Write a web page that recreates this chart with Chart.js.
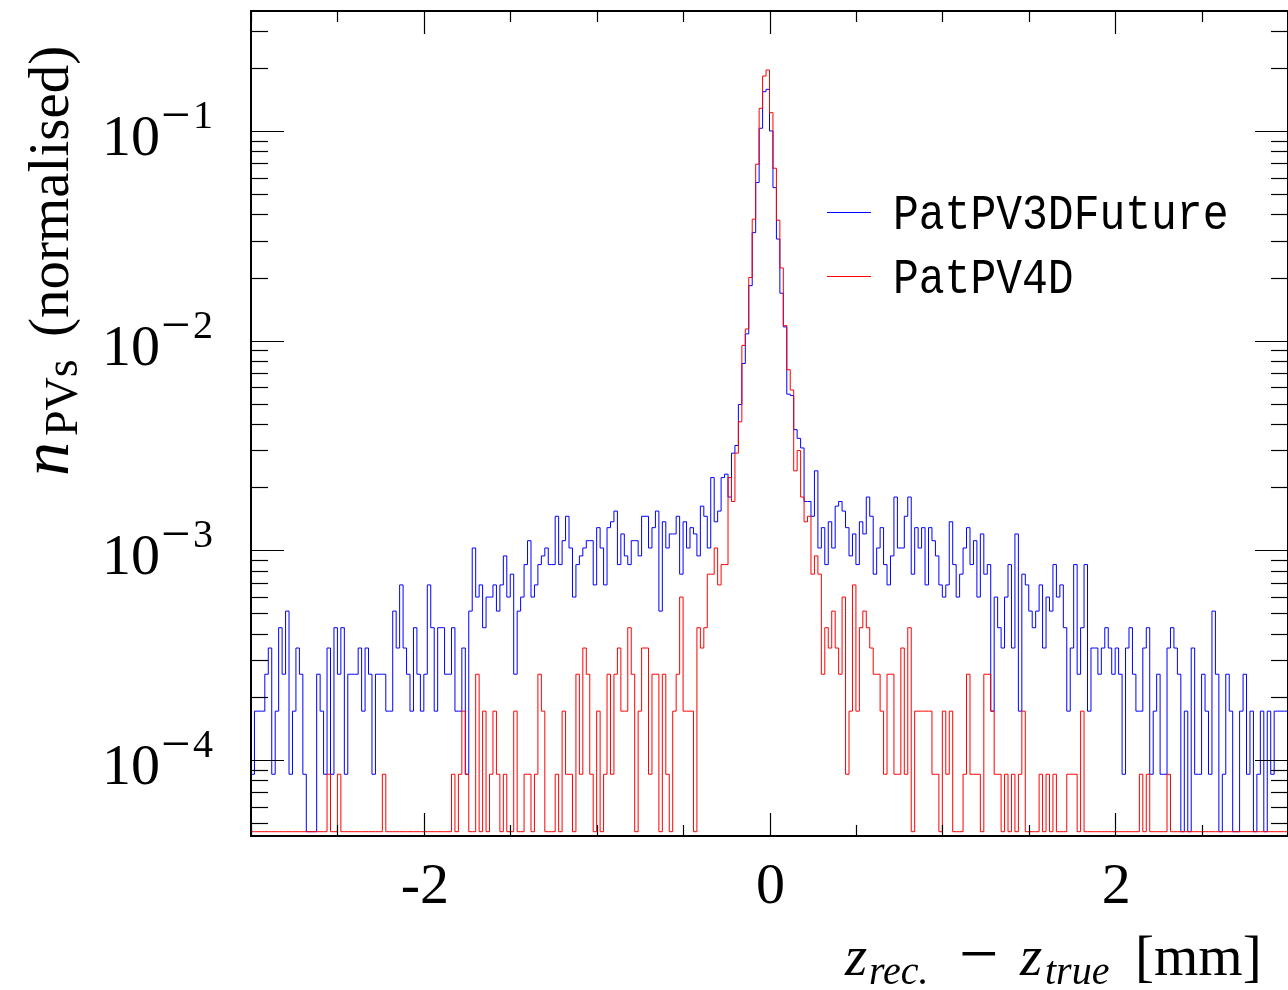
<!DOCTYPE html>
<html>
<head>
<meta charset="utf-8">
<script src="https://cdn.jsdelivr.net/npm/chart.js@4.4.1/dist/chart.umd.min.js"></script>
<style>
  html, body { margin: 0; padding: 0; background: #fff; overflow: hidden; }
  #wrap { width: 1288px; height: 990px; }
</style>
</head>
<body>
<div id="wrap"><canvas id="pvChart" width="1288" height="990"></canvas></div>
<script>
(function () {
  'use strict';

  // histogram binning (300 bins of 0.02 mm)
  const X_MIN = -3;
  const X_MAX = 3;
  const BIN_WIDTH = 0.02;
  const Y_MIN = 4.34e-5;
  const Y_MAX = 0.3735;
  const PER_PV = 8.55e-5;     // normalised height of a single PV in a bin
  const EMPTY_LEVEL = 4.55e-5; // where ROOT draws the empty bins

  const X_LABELS = [-2, 0, 2];
  const X_MINOR_STEP = 0.5;
  const Y_DECADES = [-4, -3, -2, -1];
  const SERIES_NAMES = ['PatPV3DFuture', 'PatPV4D'];

  // bin contents (PVs per bin)
  const pv3dCounts = [
    0, 1, 2, 2, 2, 3, 4, 1, 2, 5, 3, 6, 1, 2, 4, 3, 1, 0, 0, 0,
    3, 2, 1, 4, 1, 5, 3, 5, 1, 3, 3, 3, 4, 2, 4, 3, 1, 3, 3, 3,
    2, 2, 6, 4, 8, 4, 3, 2, 5, 3, 2, 3, 8, 5, 2, 5, 5, 3, 3, 5,
    2, 2, 4, 1, 6, 12, 7, 8, 5, 7, 7, 8, 6, 8, 11, 7, 9, 3, 6, 7,
    10, 13, 7, 8, 10, 11, 12, 10, 10, 17, 10, 13, 17, 12, 7, 10, 11, 12, 13, 13,
    8, 15, 12, 8, 15, 16, 18, 10, 14, 11, 10, 13, 13, 11, 17, 17, 12, 15, 18, 6,
    16, 12, 14, 14, 17, 9, 16, 12, 15, 14, 11, 19, 17, 12, 26, 16, 18, 26, 27, 21,
    34, 37, 58, 91, 126, 214, 383, 664, 1205, 1800, 1848, 1170, 628, 357, 197, 136, 65, 64, 44, 40,
    36, 20, 20, 17, 28, 12, 15, 10, 16, 12, 19, 20, 18, 15, 11, 14, 10, 16, 14, 21,
    17, 9, 12, 15, 10, 8, 11, 21, 12, 12, 17, 21, 9, 15, 12, 15, 8, 15, 13, 11,
    8, 7, 8, 16, 10, 7, 9, 12, 15, 10, 13, 7, 14, 9, 10, 2, 7, 5, 4, 7,
    10, 4, 14, 2, 9, 8, 6, 5, 6, 8, 4, 7, 6, 10, 7, 8, 5, 2, 4, 10,
    3, 5, 10, 2, 4, 4, 3, 4, 5, 4, 3, 4, 3, 1, 4, 5, 3, 2, 2, 4,
    5, 1, 2, 3, 1, 1, 4, 5, 4, 3, 0, 2, 0, 4, 1, 1, 3, 2, 1, 6,
    3, 0, 1, 3, 2, 0, 0, 2, 3, 1, 2, 0, 1, 2, 0, 2, 1, 2, 2, 2,
  ];

  const pv4dCounts = [
    0, 0, 0, 0, 0, 0, 0, 0, 0, 0, 0, 0, 0, 0, 0, 0, 0, 0, 0, 0,
    0, 0, 0, 1, 0, 0, 1, 0, 0, 0, 0, 0, 0, 0, 0, 0, 0, 0, 0, 1,
    0, 0, 0, 0, 0, 0, 0, 0, 0, 0, 0, 0, 0, 0, 0, 0, 0, 0, 0, 1,
    0, 1, 2, 1, 0, 0, 3, 0, 2, 0, 1, 2, 1, 0, 1, 0, 0, 2, 0, 0,
    1, 1, 0, 1, 3, 2, 0, 0, 0, 1, 0, 2, 1, 1, 0, 3, 1, 4, 3, 1,
    0, 2, 0, 1, 3, 1, 3, 4, 2, 2, 5, 3, 0, 2, 4, 4, 1, 3, 3, 0,
    3, 1, 0, 2, 3, 7, 2, 2, 2, 0, 5, 4, 5, 9, 9, 12, 8, 10, 10, 26,
    20, 34, 48, 111, 133, 234, 444, 812, 1500, 2138, 2285, 1430, 777, 439, 260, 138, 85, 68, 28, 35,
    21, 16, 17, 9, 11, 9, 3, 5, 4, 6, 4, 3, 7, 1, 2, 8, 2, 5, 6, 5,
    4, 3, 3, 2, 1, 3, 3, 1, 1, 4, 1, 5, 0, 2, 2, 2, 2, 2, 1, 1,
    0, 2, 1, 2, 0, 0, 0, 1, 3, 1, 1, 1, 0, 3, 3, 2, 1, 1, 0, 1,
    0, 1, 0, 1, 2, 0, 0, 0, 0, 1, 0, 1, 0, 1, 0, 0, 0, 1, 1, 1,
    0, 2, 0, 0, 0, 0, 0, 0, 0, 0, 0, 0, 0, 0, 0, 0, 0, 0, 1, 0,
    1, 0, 0, 0, 0, 0, 1, 0, 0, 0, 0, 0, 0, 0, 0, 0, 0, 0, 0, 0,
    0, 0, 0, 0, 0, 0, 0, 0, 0, 0, 0, 0, 0, 0, 0, 0, 0, 0, 0, 0,
  ];

  const SERIF = '"Liberation Serif", "Times New Roman", serif';
  const MONO = '"Liberation Mono", "Courier New", monospace';

  // each bin becomes a point at its low edge, drawn as a step
  function toSteps(counts) {
    const pts = counts.map((n, i) => ({
      x: X_MIN + i * BIN_WIDTH,
      y: n > 0 ? n * PER_PV : EMPTY_LEVEL,
    }));
    pts.push({ x: X_MAX, y: pts[pts.length - 1].y });
    return pts;
  }

  function seg(ctx, x1, y1, x2, y2) {
    ctx.beginPath();
    ctx.moveTo(x1, y1);
    ctx.lineTo(x2, y2);
    ctx.stroke();
  }

  // ROOT-like frame: inward ticks on all sides, TeX-ish labels, legend
  const rootFrame = {
    id: 'rootFrame',
    afterDraw(chart) {
      const { ctx, chartArea: a } = chart;
      const xs = chart.scales.x;
      const ys = chart.scales.y;
      ctx.save();
      ctx.strokeStyle = '#000';
      ctx.fillStyle = '#000';

      ctx.lineWidth = 1.2;
      for (let v = X_MIN; v <= X_MAX + 1e-9; v += X_MINOR_STEP) {
        const px = Math.round(xs.getPixelForValue(v)) + 0.5;
        const len = X_LABELS.includes(v) ? 23 : 11;
        seg(ctx, px, a.bottom, px, a.bottom - len);
        seg(ctx, px, a.top, px, a.top + len);
      }
      for (let k = -5; k <= 0; k++) {
        for (let m = 1; m <= 9; m++) {
          const v = m * Math.pow(10, k);
          if (v < Y_MIN || v > Y_MAX) continue;
          const py = Math.round(ys.getPixelForValue(v)) + 0.5;
          const len = m === 1 ? 33 : 17;
          seg(ctx, a.left, py, a.left + len, py);
          seg(ctx, a.right, py, a.right - len, py);
        }
      }

      ctx.lineWidth = 2;
      ctx.strokeRect(a.left, a.top, a.right - a.left, a.bottom - a.top);

      // x tick labels
      ctx.font = '58px ' + SERIF;
      ctx.textAlign = 'center';
      ctx.textBaseline = 'alphabetic';
      X_LABELS.forEach((v) => {
        const txt = v < 0 ? '-' + Math.abs(v) : String(v);
        ctx.fillText(txt, xs.getPixelForValue(v) + 1, 903);
      });

      // y tick labels 10^k
      Y_DECADES.forEach((d) => {
        const py = ys.getPixelForValue(Math.pow(10, d));
        ctx.textAlign = 'left';
        ctx.font = '58px ' + SERIF;
        ctx.fillText('10', 102, py + 24);
        ctx.font = '52px ' + SERIF;
        ctx.fillText('\u2212', 161, py + 1);
        ctx.font = '40px ' + SERIF;
        ctx.textAlign = 'right';
        ctx.fillText(String(Math.abs(d)), 213, py - 3);
      });

      // x axis title: z_rec. - z_true [mm]
      ctx.textAlign = 'left';
      ctx.font = 'italic 57px ' + SERIF;
      ctx.fillText('z', 845, 975);
      ctx.font = 'italic 40px ' + SERIF;
      ctx.fillText('rec.', 869, 984);
      ctx.font = '70px ' + SERIF;
      ctx.fillText('\u2212', 959, 977);
      ctx.font = 'italic 57px ' + SERIF;
      ctx.fillText('z', 1020, 975);
      ctx.font = 'italic 40px ' + SERIF;
      ctx.fillText('true', 1045, 984);
      ctx.font = '57px ' + SERIF;
      ctx.fillText('[mm]', 1135, 975);

      // y axis title: n_PVs(normalised)
      ctx.save();
      ctx.translate(68, 476);
      ctx.rotate(-Math.PI / 2);
      ctx.font = 'italic 68px ' + SERIF;
      ctx.fillText('n', 0, 0);
      ctx.font = '46px ' + SERIF;
      ctx.fillText('PVs', 40, 9);
      ctx.font = '57px ' + SERIF;
      ctx.fillText('(normalised)', 139, 0);
      ctx.restore();

      // legend
      const legendRows = [212.5, 276.5];
      SERIES_NAMES.forEach((name, i) => {
        const ds = chart.data.datasets.find((d) => d.label === name);
        ctx.strokeStyle = ds.borderColor;
        ctx.lineWidth = 1.2;
        seg(ctx, 827, legendRows[i], 871, legendRows[i]);
        ctx.save();
        ctx.translate(893, legendRows[i] + 16);
        ctx.scale(0.86, 1);
        ctx.font = '50px ' + MONO;
        ctx.fillStyle = '#000';
        ctx.textAlign = 'left';
        ctx.fillText(name, 0, 0);
        ctx.restore();
      });

      ctx.restore();
    },
  };

  const ctx = document.getElementById('pvChart').getContext('2d');
  new Chart(ctx, {
    type: 'line',
    data: {
      datasets: [
        {
          label: SERIES_NAMES[0],
          data: toSteps(pv3dCounts),
          borderColor: 'rgb(0, 0, 255)',
          borderWidth: 1,
          stepped: 'after',
          pointRadius: 0,
          fill: false,
          order: 2,
        },
        {
          label: SERIES_NAMES[1],
          data: toSteps(pv4dCounts),
          borderColor: 'rgb(255, 0, 0)',
          borderWidth: 1,
          stepped: 'after',
          pointRadius: 0,
          fill: false,
          order: 1,
        },
      ],
    },
    options: {
      responsive: false,
      animation: false,
      devicePixelRatio: 1,
      layout: { padding: { left: 251, right: 0, top: 11, bottom: 154 } },
      plugins: {
        legend: { display: false },
        tooltip: { enabled: false },
      },
      scales: {
        x: { type: 'linear', min: X_MIN, max: X_MAX, display: false },
        y: { type: 'logarithmic', min: Y_MIN, max: Y_MAX, display: false },
      },
    },
    plugins: [rootFrame],
  });
})();
</script>
</body>
</html>
